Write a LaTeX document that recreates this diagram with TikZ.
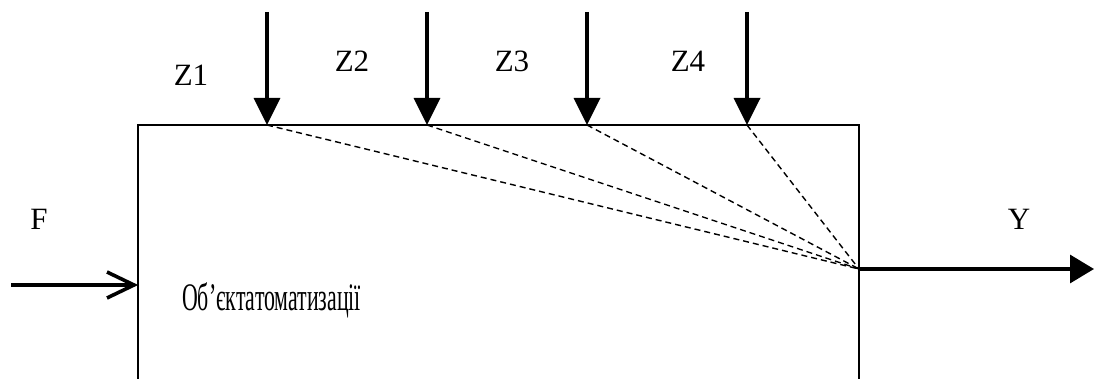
\documentclass[tikz,border=0pt]{standalone}
\usepackage{fontspec}
\setmainfont{Liberation Serif}
\usetikzlibrary{arrows.meta}
\begin{document}
\begin{tikzpicture}[x=1pt,y=-1pt,
  boxline/.style={line width=1.6pt},
  zarrow/.style={line width=3.6pt,-{Triangle[length=27pt,width=26pt]}},
  yarrow/.style={line width=3.2pt,-{Triangle[length=24pt,width=28pt]}},
  farrow/.style={line width=3.6pt},
  barb/.style={line width=3.6pt,line join=miter},
  dline/.style={line width=1.4pt,dash pattern=on 6pt off 4pt},
  lbl/.style={font=\fontsize{31}{31}\selectfont,inner sep=0pt},
  txt/.style={font=\fontsize{39}{39}\selectfont,inner sep=0pt,anchor=base west}]
\useasboundingbox (0,0) rectangle (1094,379);
\coordinate (bl) at (138,400);
\coordinate (tl) at (138,125);
\coordinate (tr) at (859,125);
\coordinate (br) at (859,400);
\draw[boxline] (bl) -- (tl) -- (tr) -- (br);
% Z arrows
\coordinate (z1s) at (267,12); \coordinate (z1) at (267,125);
\coordinate (z2s) at (427,12); \coordinate (z2) at (427,125);
\coordinate (z3s) at (587,12); \coordinate (z3) at (587,125);
\coordinate (z4s) at (747,12); \coordinate (z4) at (747,125);
\coordinate (out) at (859,269);
\foreach \i in {1,2,3,4} {
  \draw[zarrow] (z\i s) -- (z\i);
  \draw[dline] (z\i) -- (out);
}
\node[lbl] (lz1) at (191,75) {Z1};
\node[lbl] (lz2) at (352,61) {Z2};
\node[lbl] (lz3) at (512,61) {Z3};
\node[lbl] (lz4) at (688,61) {Z4};
% Y
\coordinate (yend) at (1094,269);
\draw[yarrow] (out) -- (yend);
\node[lbl] (ly) at (1019,219) {Y};
% F
\coordinate (fs) at (11,285);
\coordinate (fe) at (134,285);
\draw[farrow] (fs) -- (fe);
\draw[barb] (fe) ++(-27,-13) -- (fe) -- ++(-27,13);
\node[lbl] (lf) at (39,219) {F};
% text
\node[txt] (obj) at (182,310) {\scalebox{0.56}[1]{Об’єктатоматизації}};
\end{tikzpicture}
\end{document}
